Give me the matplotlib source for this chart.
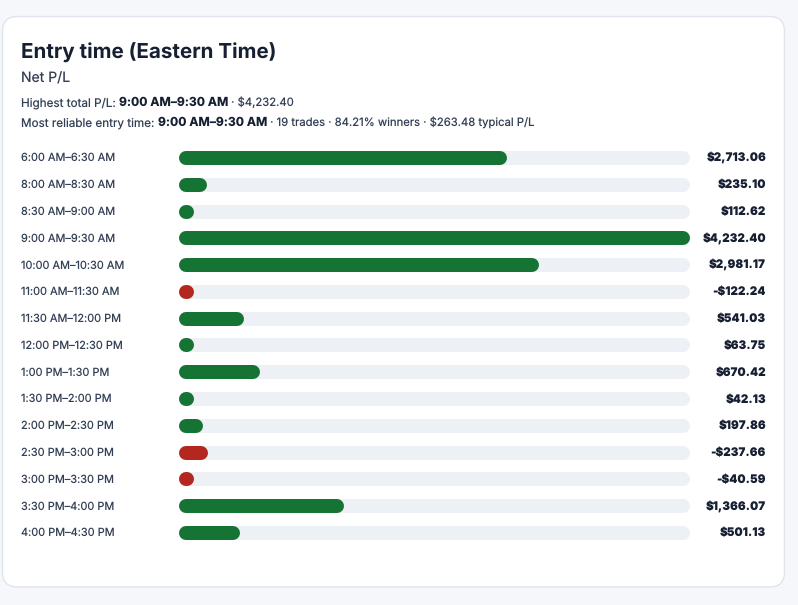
import matplotlib
matplotlib.use("Agg")
import matplotlib.pyplot as plt
from matplotlib.patches import FancyBboxPatch
from matplotlib.transforms import blended_transform_factory

plt.rcParams["text.hinting"] = "no_hinting"

W, H = 798, 605

slots = ["6:00 AM–6:30 AM", "8:00 AM–8:30 AM", "8:30 AM–9:00 AM", "9:00 AM–9:30 AM",
         "10:00 AM–10:30 AM", "11:00 AM–11:30 AM", "11:30 AM–12:00 PM", "12:00 PM–12:30 PM",
         "1:00 PM–1:30 PM", "1:30 PM–2:00 PM", "2:00 PM–2:30 PM", "2:30 PM–3:00 PM",
         "3:00 PM–3:30 PM", "3:30 PM–4:00 PM", "4:00 PM–4:30 PM"]
pnl = [2713.06, 235.10, 112.62, 4232.40, 2981.17, -122.24, 541.03, 63.75,
       670.42, 42.13, 197.86, -237.66, -40.59, 1366.07, 501.13]

INK = "#172033"
TEXT = "#334055"
GREEN = "#157334"
RED = "#b3271e"
TRACK = "#edf0f5"
FONT = "Inter"


def px(n):
    return n * 72 / 100


fig = plt.figure(figsize=(W / 100, H / 100), dpi=100, facecolor="#f5f7fb")

# whole figure axes in pixels, for the card and the header
bg = fig.add_axes([0, 0, 1, 1])
bg.set_xlim(0, W)
bg.set_ylim(H, 0)
bg.axis("off")
bg.add_patch(FancyBboxPatch((2.5, 16.5), 782, 570.5, boxstyle="round,pad=0,rounding_size=15",
                            fc="white", ec="#e0e4ec", lw=1))

bg.text(21, 53, "Entry time (Eastern Time)", fontsize=px(20.6), fontweight="bold",
        color=INK, family=FONT, va="center")
bg.text(21, 78.2, "Net P/L", fontsize=px(14), color=TEXT, family=FONT, va="center")


def mixed(x, y, parts):
    # runs of normal and bold text on one line
    r = fig.canvas.get_renderer()
    for s, weight, size in parts:
        t = bg.text(x, y, s.replace(" ", "\u00a0"), fontsize=px(size), fontweight=weight,
                    color=INK if weight == "bold" else TEXT, family=FONT, va="center")
        x += t.get_window_extent(r).width


mixed(21, 102.8, [("Highest total P/L: ", "normal", 11.7), ("9:00 AM–9:30 AM", "bold", 12.2),
                  (" · $4,232.40", "normal", 11.3)])
mixed(21, 123, [("Most reliable entry time: ", "normal", 11.7), ("9:00 AM–9:30 AM", "bold", 12.2),
                (" · 19 trades · 84.21% winners · $263.48 typical P/L", "normal", 11.3)])

# bars, x in dollars
ax = fig.add_axes([179 / W, 1 - 546.4 / H, 511 / W, 401.8 / H])
ax.patch.set_alpha(0)
top = max(abs(v) for v in pnl)
ax.set_xlim(0, top)
ax.set_ylim(len(slots) - 0.5, -0.5)
ax.axis("off")

cap = 7 * top / 511
lw = px(14)
tr = blended_transform_factory(bg.transData, ax.transData)

for i, (name, v) in enumerate(zip(slots, pnl)):
    ax.plot([cap, top - cap], [i, i], color=TRACK, lw=lw, solid_capstyle="round", zorder=1)
    end = max(abs(v), 2 * cap + 1 * top / 511)
    ax.plot([cap, end - cap], [i, i], color=GREEN if v >= 0 else RED, lw=lw,
            solid_capstyle="round", zorder=2)
    ax.text(21, i + 0.01, name, transform=tr, fontsize=px(11), color=TEXT, family=FONT,
            va="center", clip_on=False)
    label = f"${v:,.2f}" if v >= 0 else f"-${abs(v):,.2f}"
    ax.text(766, i + 0.01, label, transform=tr, fontsize=px(11.6), fontweight="black", color=INK,
            family=FONT, ha="right", va="center", clip_on=False)

fig.savefig("out.png", dpi=100, facecolor=fig.get_facecolor())
